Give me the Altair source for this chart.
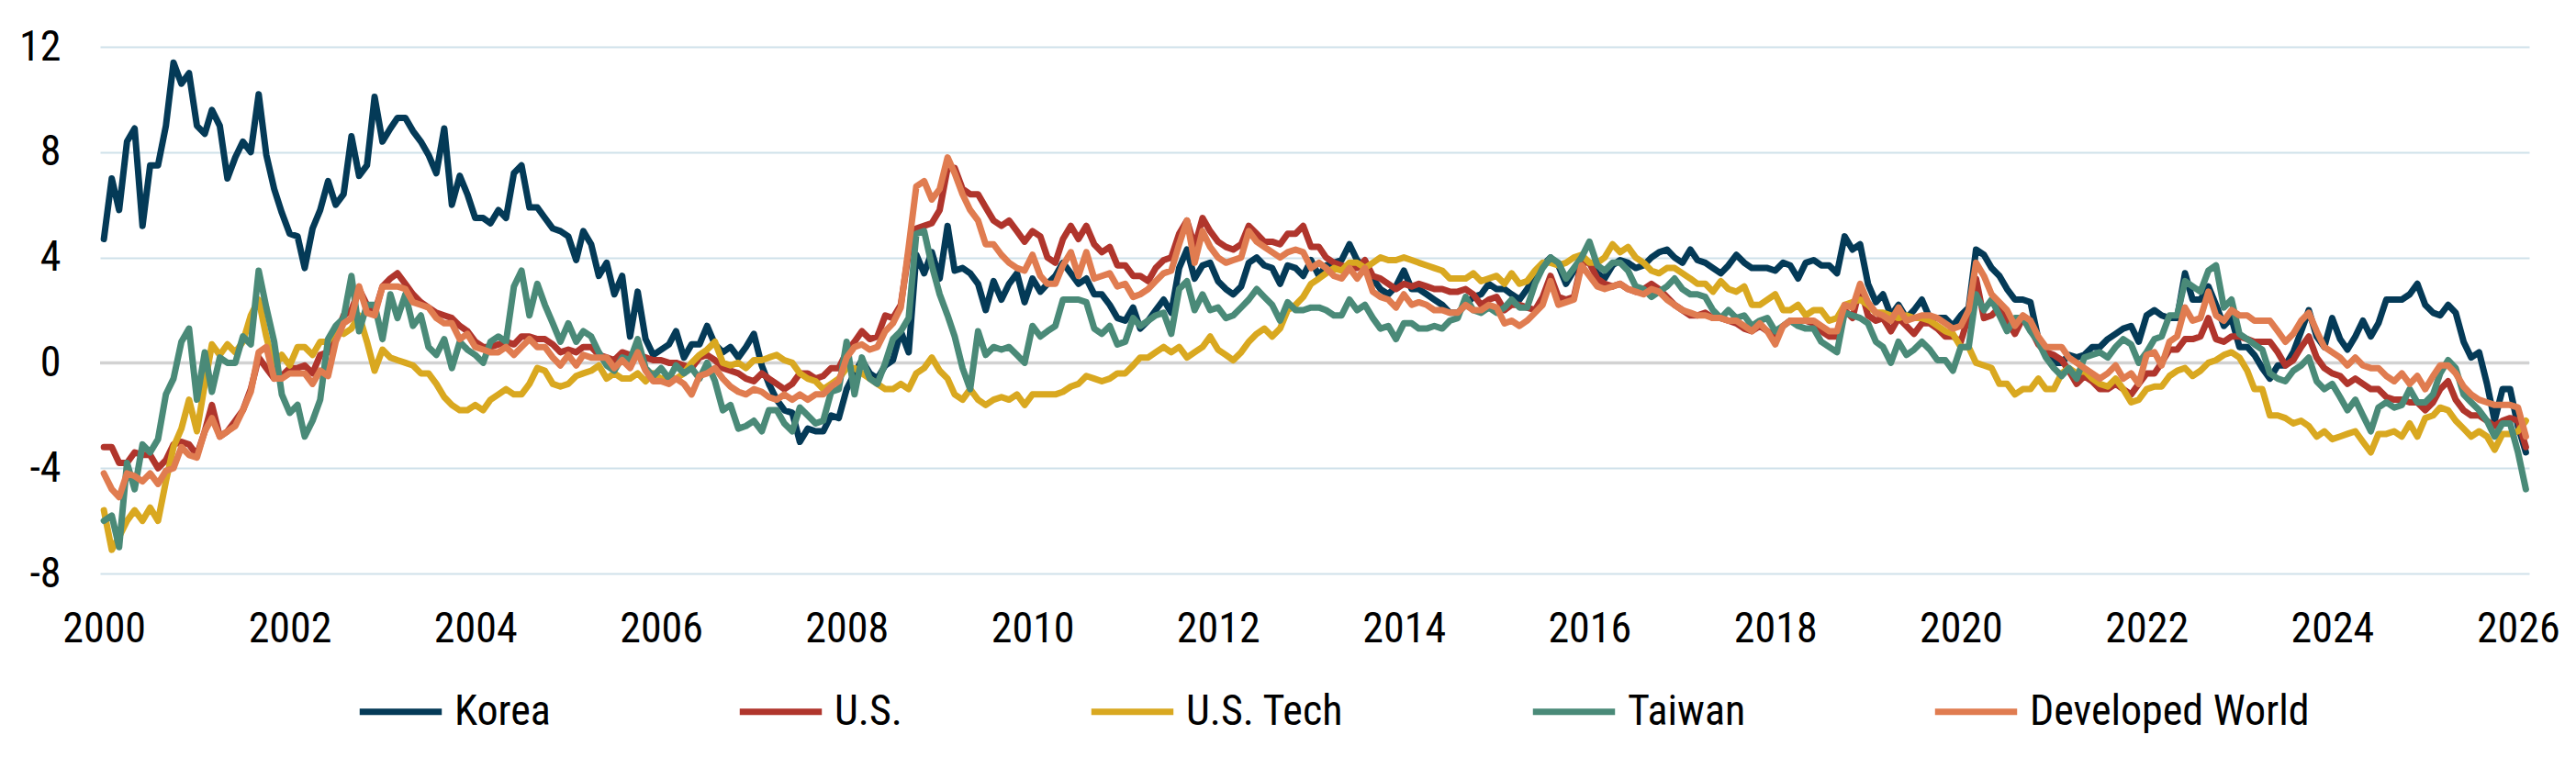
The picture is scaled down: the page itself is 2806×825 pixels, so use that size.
import altair as alt
import pandas as pd

series_names = ["Korea", "U.S.", "U.S. Tech", "Taiwan", "Developed World"]
series_colors = ["#043a57", "#b0352c", "#d9a820", "#4a8a78", "#e07c50"]

korea = [
    4.7, 7.0, 5.8, 8.4, 8.9, 5.2, 7.5, 7.5, 9.0, 11.4,
    10.6, 11.0, 9.0, 8.7, 9.6, 9.0, 7.0, 7.8, 8.4, 8.0,
    10.2, 7.9, 6.6, 5.7, 4.9, 4.8, 3.6, 5.1, 5.8, 6.9,
    6.0, 6.4, 8.6, 7.1, 7.5, 10.1, 8.4, 8.9, 9.3, 9.3,
    8.8, 8.4, 7.9, 7.2, 8.9, 6.0, 7.1, 6.4, 5.5, 5.5,
    5.3, 5.8, 5.5, 7.2, 7.5, 5.9, 5.9, 5.5, 5.1, 5.0,
    4.8, 3.9, 5.0, 4.5, 3.3, 3.8, 2.6, 3.3, 1.0, 2.7,
    0.9, 0.3, 0.5, 0.7, 1.2, 0.2, 0.7, 0.7, 1.4, 0.7,
    0.4, 0.6, 0.2, 0.6, 1.1, -0.1, -0.8, -1.4, -1.8, -1.9,
    -3.0, -2.5, -2.6, -2.6, -2.0, -2.1, -1.0, -0.4, 0.1, -0.4,
    -0.6, -0.1, 0.1, 1.2, 0.4, 4.1, 3.4,
    4.2, 3.2, 5.2, 3.5, 3.6, 3.4, 3.0, 2.0, 3.1, 2.4,
    3.0, 3.4, 2.3, 3.2, 2.7, 3.0, 3.3, 3.8, 3.4, 3.0,
    3.2, 2.6, 2.6, 2.2, 1.7, 1.6, 2.1, 1.3, 1.6, 2.0,
    2.4, 1.9, 3.6, 4.3, 3.2, 3.7, 3.8, 3.1, 2.8, 2.6,
    2.9, 3.8, 4.0, 3.7, 3.6, 3.0, 3.7, 3.6, 3.3, 3.9,
    3.3, 3.7, 3.8, 3.9, 4.5, 3.9, 3.6, 3.2, 2.8, 2.6,
    2.9, 3.5, 2.8, 2.8, 2.6, 2.4, 2.2, 1.9, 1.9, 2.2,
    2.5, 2.6, 3.0, 2.8, 2.8, 2.6, 2.4, 2.8, 3.3, 3.7,
    4.0, 3.7, 3.0, 3.5, 4.0, 3.8, 3.4, 3.2, 3.7, 3.9,
    3.8, 3.6, 3.7, 4.0, 4.2, 4.3, 4.0, 3.8, 4.3, 3.9,
    3.8, 3.6, 3.4, 3.7, 4.1, 3.8, 3.6,
    3.6, 3.6, 3.5, 3.8, 3.7, 3.2, 3.8, 3.9, 3.7, 3.7,
    3.4, 4.8, 4.3, 4.5, 3.0, 2.3, 2.6, 1.8, 2.2, 1.7,
    2.0, 2.4, 1.7, 1.7, 1.7, 1.4, 1.8, 2.1, 4.3, 4.1,
    3.6, 3.3, 2.8, 2.4, 2.4, 2.3, 0.9, 0.4, 0.0, 0.0,
    0.3, 0.2, 0.3, 0.6, 0.6, 0.9, 1.1, 1.3, 1.4, 0.8,
    1.8, 2.0, 1.8, 1.7, 1.7, 3.4, 2.4, 2.4, 2.9, 2.2,
    1.4, 1.7, 0.6, 0.6, 0.3, -0.2, -0.6, -0.1, -0.1, 0.4,
    1.2, 2.0, 1.0, 0.6, 1.7, 0.9, 0.5, 1.0, 1.6, 1.0,
    1.5, 2.4, 2.4, 2.4, 2.6, 3.0, 2.2, 1.9, 1.8, 2.2,
    1.9, 0.8, 0.2, 0.4, -0.8, -2.2, -1.0, -1.0, -2.4, -3.4,
]

us = [
    -3.2, -3.2, -3.8, -3.8, -3.4, -3.5, -3.5, -4.0, -3.7, -3.1,
    -3.0, -3.1, -3.5, -2.6, -1.6, -2.8, -2.6, -2.2, -1.8, -1.0,
    0.2, -0.2, -0.6, -0.5, -0.2, -0.2, -0.1, -0.4, 0.3, 0.4,
    1.0, 1.8, 2.0, 2.8, 2.2, 1.9, 2.9, 3.2, 3.4, 3.0,
    2.6, 2.3, 2.1, 1.9, 1.8, 1.7, 1.4, 1.2, 0.8, 0.6,
    0.6, 0.7, 0.8, 0.7, 1.0, 1.0, 0.9, 0.9, 0.7, 0.4,
    0.5, 0.4, 0.6, 0.6, 0.3, 0.2, 0.1, 0.4, 0.3, 0.3,
    0.2, 0.1, 0.1, 0.0, 0.0, -0.1, -0.2, 0.2, 0.3, 0.1,
    -0.2, -0.3, -0.4, -0.6, -0.7, -0.4, -0.6, -0.8, -1.0, -0.8,
    -0.4, -0.4, -0.6, -0.5, -0.2, -0.2, 0.4, 0.8, 1.2, 0.9,
    1.0, 1.8, 1.7, 2.2, 4.2, 5.1, 5.2,
    5.3, 5.8, 7.4, 7.4, 6.6, 6.4, 6.4, 5.9, 5.4, 5.2,
    5.4, 5.0, 4.6, 5.0, 4.8, 4.0, 3.8, 4.7, 5.2, 4.7,
    5.2, 4.5, 4.2, 4.4, 3.7, 3.7, 3.3, 3.3, 3.1, 3.6,
    3.9, 4.0, 4.9, 5.4, 4.4, 5.5, 5.0, 4.6, 4.4, 4.3,
    4.5, 5.2, 4.9, 4.6, 4.6, 4.5, 4.9, 4.9, 5.2, 4.4,
    4.4, 4.0, 3.8, 3.7, 3.6, 3.6, 3.9, 3.3, 3.2, 3.0,
    2.8, 3.0, 2.9, 3.0, 2.9, 2.8, 2.8, 2.7, 2.7, 2.8,
    2.6, 2.2, 2.4, 2.5, 2.0, 2.2, 2.2, 2.1, 2.0, 2.5,
    3.3, 2.5, 2.4, 2.5, 3.8, 3.8, 3.2, 3.0, 2.9, 3.0,
    2.8, 2.7, 2.8, 3.0, 2.8, 2.5, 2.2, 2.0, 1.8, 1.8,
    1.9, 1.7, 1.7, 1.6, 1.5, 1.3, 1.2,
    1.4, 1.2, 1.0, 1.4, 1.6, 1.6, 1.6, 1.5, 1.2, 1.0,
    1.0, 2.0, 1.7, 2.9, 1.8, 1.6, 1.7, 1.2, 1.7, 1.4,
    1.1, 1.5, 1.5, 1.3, 1.0, 1.0, 0.8, 1.8, 3.2, 1.7,
    1.8, 2.1, 1.6, 1.1, 1.7, 1.3, 0.7, 0.4, 0.3, 0.1,
    -0.3, -0.8, -0.5, -0.7, -1.0, -1.0, -0.8, -1.0, -1.2, -0.8,
    -0.4, -0.4, 0.0, 0.5, 0.5, 0.9, 0.9, 1.0, 1.7, 0.9,
    0.8, 1.0, 1.0, 0.9, 0.8, 0.8, 0.8, 0.4, -0.1, 0.1,
    0.6, 1.0, 0.2, -0.2, -0.4, -0.5, -0.8, -0.6, -0.8, -1.0,
    -1.0, -1.3, -1.4, -1.4, -1.5, -1.5, -1.8, -1.5, -1.0, -0.7,
    -1.4, -1.8, -2.0, -2.0, -2.2, -2.4, -2.2, -2.1, -2.2, -3.2,
]

us_tech = [
    -5.6, -7.1, -6.6, -6.0, -5.6, -6.0, -5.5, -6.0, -4.5, -3.2,
    -2.5, -1.4, -2.6, -0.8, 0.7, 0.3, 0.7, 0.4, 0.8, 1.8,
    2.4, 1.0, -0.2, 0.3, -0.1, 0.6, 0.6, 0.3, 0.8, 0.8,
    1.3, 1.1, 1.3, 1.8, 0.8, -0.3, 0.5, 0.2, 0.1, 0.0,
    -0.1, -0.4, -0.4, -0.8, -1.3, -1.6, -1.8, -1.8, -1.6, -1.8,
    -1.4, -1.2, -1.0, -1.2, -1.2, -0.8, -0.2, -0.3, -0.8, -0.9,
    -0.8, -0.5, -0.4, -0.3, -0.1, -0.6, -0.4, -0.6, -0.6, -0.4,
    -0.7, -0.4, -0.6, -0.6, -0.6, -0.4, 0.0, 0.3, 0.5, 0.8,
    0.0, -0.1, 0.0, -0.2, 0.1, 0.1, 0.2, 0.3, 0.1, 0.0,
    -0.4, -0.6, -0.7, -1.0, -0.8, -0.6, -0.2, -0.2, -0.4, -0.6,
    -0.8, -1.0, -1.0, -0.8, -1.0, -0.4, -0.2,
    0.2, -0.3, -0.6, -1.2, -1.4, -1.0, -1.4, -1.6, -1.4, -1.3,
    -1.4, -1.2, -1.6, -1.2, -1.2, -1.2, -1.2, -1.1, -0.9, -0.8,
    -0.5, -0.6, -0.7, -0.6, -0.4, -0.4, -0.1, 0.2, 0.2, 0.4,
    0.6, 0.4, 0.6, 0.2, 0.4, 0.6, 1.0, 0.5, 0.3, 0.1,
    0.4, 0.8, 1.1, 1.3, 1.0, 1.3, 2.0, 2.2, 2.5, 3.0,
    3.2, 3.4, 3.6, 3.5, 3.8, 3.8, 3.6, 3.8, 4.0, 3.9,
    3.9, 4.0, 3.9, 3.8, 3.7, 3.6, 3.5, 3.2, 3.2, 3.2,
    3.4, 3.1, 3.2, 3.3, 3.0, 3.4, 3.0, 3.1, 3.5, 3.8,
    3.8, 3.7, 3.8, 4.0, 4.1, 3.8, 3.8, 4.0, 4.5, 4.2,
    4.4, 4.0, 3.8, 3.5, 3.4, 3.6, 3.6, 3.4, 3.2, 3.0,
    3.0, 2.7, 3.1, 2.8, 2.7, 2.9, 2.2,
    2.2, 2.4, 2.6, 2.0, 2.0, 2.2, 1.8, 2.0, 2.0, 1.6,
    1.7, 2.2, 2.3, 2.4, 2.2, 1.9, 1.9, 1.8, 1.7, 1.8,
    1.7, 1.7, 1.6, 1.4, 1.2, 1.1, 0.6, 0.6, 0.0, -0.1,
    -0.2, -0.8, -0.8, -1.2, -1.0, -1.0, -0.6, -1.0, -1.0, -0.4,
    -0.2, -0.4, -0.3, -0.6, -0.8, -0.9, -0.6, -1.0, -1.5, -1.4,
    -1.0, -0.9, -0.9, -0.5, -0.3, -0.2, -0.5, -0.3, 0.0, 0.1,
    0.3, 0.4, 0.2, -0.3, -1.0, -1.0, -2.0, -2.0, -2.1, -2.3,
    -2.2, -2.4, -2.8, -2.6, -2.9, -2.8, -2.7, -2.6, -3.0, -3.4,
    -2.7, -2.7, -2.6, -2.8, -2.3, -2.8, -2.1, -2.0, -1.7, -1.8,
    -2.2, -2.5, -2.8, -2.6, -2.8, -3.3, -2.7, -2.7, -2.6, -2.2,
]

taiwan = [
    -6.0, -5.8, -7.0, -3.8, -4.8, -3.1, -3.4, -2.9, -1.2, -0.6,
    0.8, 1.3, -1.4, 0.4, -1.1, 0.2, 0.0, 0.0, 1.0, 0.7,
    3.5, 2.1, 0.8, -1.2, -1.9, -1.6, -2.8, -2.2, -1.4, 0.9,
    1.4, 1.7, 3.3, 1.2, 2.2, 2.2, 0.9, 2.6, 1.7, 2.6,
    1.4, 1.8, 0.6, 0.3, 0.9, -0.2, 0.8, 0.5, 0.3, 0.0,
    0.8, 1.0, 0.8, 2.9, 3.5, 1.8, 3.0, 2.2, 1.5, 0.8,
    1.5, 0.8, 1.2, 1.0, 0.4, -0.1, -0.3, 0.2, 0.1, 0.9,
    -0.2, -0.5, -0.2, -0.6, -0.1, -0.4, -0.2, -0.6, 0.0, -0.7,
    -1.8, -1.6, -2.5, -2.4, -2.2, -2.6, -1.8, -1.8, -2.3, -2.6,
    -1.7, -2.0, -2.3, -2.2, -1.1, -1.0, 0.8, -1.2, 0.2, -0.6,
    -0.8, 0.0, 0.9, 1.2, 1.7, 4.9, 5.0,
    3.7, 2.6, 1.8, 1.0, -0.2, -1.0, 1.2, 0.3, 0.6, 0.5,
    0.6, 0.3, 0.0, 1.4, 1.0, 1.2, 1.4, 2.4, 2.4, 2.4,
    2.3, 1.3, 1.1, 1.4, 0.7, 0.8, 1.7, 1.4, 1.6, 1.8,
    1.9, 1.1, 2.8, 3.1, 2.0, 2.6, 2.0, 2.1, 1.7, 1.8,
    2.1, 2.4, 2.8, 2.5, 2.2, 1.6, 2.3, 2.0, 2.0, 2.1,
    2.1, 2.0, 1.8, 1.8, 2.4, 2.0, 2.2, 1.7, 1.3, 1.4,
    0.9, 1.5, 1.5, 1.3, 1.3, 1.4, 1.3, 1.6, 1.7, 2.5,
    2.0, 1.9, 2.1, 1.9, 2.1, 2.4, 2.1, 2.1, 3.0, 3.6,
    4.0, 3.8, 3.2, 3.6, 4.0, 4.6, 3.7, 3.5, 3.8, 3.8,
    3.5, 2.9, 2.8, 2.5, 2.7, 2.9, 3.2, 2.8, 2.6, 2.6,
    2.5, 2.0, 1.7, 2.0, 1.7, 1.8, 1.4,
    1.6, 1.7, 1.2, 1.4, 1.6, 1.4, 1.3, 1.3, 0.8, 0.6,
    0.4, 1.9, 1.8, 1.7, 1.5, 0.8, 0.6, 0.0, 0.8, 0.3,
    0.5, 0.8, 0.5, 0.1, 0.1, -0.3, 0.6, 0.6, 2.6, 2.0,
    2.4, 1.8, 1.2, 1.7, 1.7, 1.2, 0.8, 0.2, -0.2, -0.5,
    -0.2, -0.6, 0.2, 0.3, 0.4, 0.2, 0.6, 0.9, 0.7, 0.0,
    0.4, 0.9, 1.0, 1.8, 1.8, 3.1, 2.9, 2.7, 3.5, 3.7,
    2.1, 2.4, 1.1, 0.9, 0.7, 0.5, -0.4, -0.6, -0.7, -0.3,
    -0.1, 0.2, -0.7, -1.0, -0.8, -1.3, -1.8, -1.4, -2.0, -2.6,
    -1.7, -1.5, -1.7, -1.6, -1.0, -1.5, -1.5, -1.2, -0.4, 0.1,
    -0.2, -1.2, -1.5, -1.8, -2.2, -2.8, -2.3, -2.3, -3.4, -4.8,
]

developed = [
    -4.2, -4.8, -5.1, -4.2, -4.3, -4.5, -4.2, -4.6, -4.1, -4.0,
    -3.2, -3.5, -3.6, -2.6, -2.1, -2.8, -2.6, -2.4, -1.8, -1.1,
    0.4, 0.6, -0.6, -0.6, -0.4, -0.4, -0.4, -0.8, -0.3, -0.5,
    0.8, 1.5, 1.7, 2.9, 1.9, 1.8, 2.9, 2.9, 2.9, 2.8,
    2.3, 2.2, 2.1, 1.7, 1.5, 1.5, 0.9, 1.1, 0.6, 0.5,
    0.4, 0.4, 0.6, 0.3, 0.6, 0.9, 0.6, 0.6, 0.2, -0.1,
    0.3, -0.1, 0.3, 0.2, 0.2, 0.2, -0.2, 0.1, -0.2, 0.4,
    -0.3, -0.7, -0.7, -0.8, -0.6, -0.8, -1.2, -0.5, -0.4, -0.2,
    -0.6, -0.9, -1.1, -1.2, -1.0, -1.1, -1.3, -1.4, -1.2, -1.4,
    -1.2, -1.4, -1.2, -1.2, -0.9, -0.7, 0.2, 0.6, 0.7, 0.5,
    0.6, 1.2, 1.5, 2.1, 4.4, 6.7, 6.9,
    6.2, 6.6, 7.8, 7.2, 6.4, 5.8, 5.4, 4.5, 4.5, 4.1,
    3.8, 3.6, 3.5, 4.1, 3.3, 3.0, 3.0, 3.7, 4.2, 3.3,
    4.2, 3.2, 3.3, 3.4, 2.9, 3.0, 2.5, 2.6, 2.8, 3.1,
    3.4, 3.5, 4.5, 5.4, 3.8, 5.0, 4.4, 4.0, 3.8, 3.9,
    4.0, 5.0, 4.6, 4.4, 4.2, 4.0, 4.2, 4.3, 4.2, 3.6,
    3.8, 3.6, 3.3, 3.2, 3.6, 3.2, 3.6, 2.7, 2.5, 2.4,
    2.1, 2.6, 2.2, 2.3, 2.2, 2.0, 2.0, 1.9, 1.9, 2.2,
    2.0, 2.0, 2.2, 2.1, 1.5, 1.6, 1.4, 1.6, 1.9, 2.2,
    3.1, 2.2, 2.3, 2.4, 3.7, 3.3, 2.9, 2.8, 2.9, 3.0,
    2.8, 2.7, 2.6, 2.8, 2.7, 2.4, 2.2, 2.0, 1.9, 1.8,
    1.8, 1.7, 1.7, 1.6, 1.6, 1.4, 1.2,
    1.5, 1.2, 0.7, 1.4, 1.6, 1.6, 1.6, 1.6, 1.4, 1.2,
    1.2, 2.2, 2.1, 3.0, 2.3, 1.9, 1.8, 1.6, 2.1, 1.6,
    1.7, 1.8, 1.8, 1.7, 1.5, 1.3, 1.4, 2.0, 3.8, 3.3,
    2.6, 2.3, 2.0, 1.4, 1.8, 1.6, 1.0, 0.6, 0.6, 0.6,
    0.2, 0.0, -0.2, -0.4, -0.6, -0.4, -0.1, -0.6, -0.4, -0.8,
    0.3, 0.4, -0.1, 0.8, 1.0, 2.1, 1.6, 1.7, 2.7, 1.8,
    1.6, 2.0, 1.8, 1.8, 1.6, 1.6, 1.6, 1.2, 0.8, 1.1,
    1.6, 1.9, 1.2, 0.6, 0.4, 0.2, -0.1, 0.2, -0.1, -0.2,
    -0.2, -0.5, -0.7, -0.4, -0.8, -0.5, -1.0, -0.5, -0.1, -0.1,
    -0.4, -0.9, -1.2, -1.4, -1.5, -1.6, -1.6, -1.6, -1.7, -2.8,
]

y_ticks = [-8, -4, 0, 4, 8, 12]
x_tick_years = list(range(2000, 2027, 2))

dates = pd.date_range("2000-01-01", periods=len(korea), freq="MS").strftime("%Y-%m-%dT00:00:00")
all_values = [korea, us, us_tech, taiwan, developed]
rows = []
for name, vals in zip(series_names, all_values):
    for d, v in zip(dates, vals):
        rows.append({"date": d, "series": name, "value": v})
df = pd.DataFrame(rows)

FONT = "Roboto Condensed, Liberation Sans Narrow, Arial Narrow, Roboto, sans-serif"

lines = alt.Chart(df).mark_line(strokeWidth=7, strokeJoin="round", strokeCap="round").encode(
    x=alt.X(
        "date:T",
        title=None,
        scale=alt.Scale(domain=[alt.DateTime(year=1999, month=12, date=17),
                                alt.DateTime(year=2026, month=2, date=14)]),
        axis=alt.Axis(
            values=[alt.DateTime(year=y, month=1, date=1) for y in x_tick_years],
            format="%Y", grid=False, domain=False, ticks=False, tickSize=0,
            labelFont=FONT, labelFontSize=46, labelColor="#000000",
            labelPadding=74, labelBaseline="alphabetic", labelFlush=False,
            labelOverlap=False,
        ),
    ),
    y=alt.Y(
        "value:Q",
        title=None,
        scale=alt.Scale(domain=[-8, 12], nice=False, zero=False),
        axis=alt.Axis(
            values=y_ticks, grid=True, gridColor="#cfe1ea", gridWidth=2.2,
            domain=False, ticks=False, tickSize=0,
            labelFont=FONT, labelFontSize=46, labelColor="#000000",
            labelPadding=43,
            labelExpr="datum.value < 0 ? '-' + abs(datum.value) : '' + datum.value",
        ),
    ),
    color=alt.Color(
        "series:N",
        sort=series_names,
        scale=alt.Scale(domain=series_names, range=series_colors),
        legend=alt.Legend(
            title=None, orient="none", direction="horizontal",
            legendX=279, legendY=676,
            symbolType="stroke", symbolStrokeWidth=7, symbolSize=8000,
            labelFont=FONT, labelFontSize=46, labelColor="#000000",
            labelOffset=10, columnPadding=191, padding=0,
            labelLimit=600,
        ),
    ),
)

zero_df = pd.DataFrame({"value": [0]})
zero_rule = alt.Chart(zero_df).mark_rule(color="#d2d2d2", strokeWidth=3.5).encode(y="value:Q")

chart = alt.layer(zero_rule, lines).properties(
    width=2646,
    height=574,
    padding={"left": 101, "top": 43, "right": 43, "bottom": 192},
    autosize=alt.AutoSizeParams(type="none"),
    background="#ffffff",
).configure_view(stroke=None)

chart.save("out.html", embed_options={"renderer": "svg", "actions": False})
